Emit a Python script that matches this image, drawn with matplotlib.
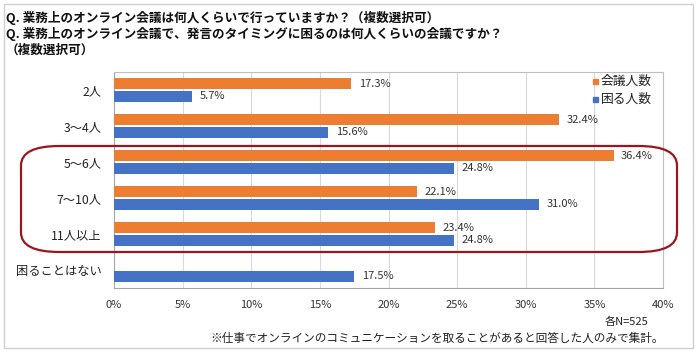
import matplotlib
matplotlib.use("Agg")
import matplotlib.pyplot as plt
from matplotlib.patches import FancyBboxPatch, Rectangle
import numpy as np

plt.rcParams['font.family'] = ['Noto Sans CJK JP', 'DejaVu Sans']

# data
categories = ["2人", "3～4人", "5～6人", "7～10人", "11人以上", "困ることはない"]
meeting = [17.3, 32.4, 36.4, 22.1, 23.4, None]
trouble = [5.7, 15.6, 24.8, 31.0, 24.8, 17.5]
xticks = [0, 5, 10, 15, 20, 25, 30, 35, 40]

orange = "#ED7D31"
blue = "#4472C4"

fig = plt.figure(figsize=(7, 3.54), dpi=100)
W, H = 700, 354
ax = fig.add_axes([114 / W, 1 - 288 / H, (663 - 114) / W, (288 - 72) / H])

y = np.arange(len(categories))
h = 0.31
for i in range(len(categories)):
    if meeting[i] is not None:
        ax.barh(y[i] - h / 2 - 0.02, meeting[i], height=h, color=orange, zorder=3)
        ax.text(meeting[i] + 0.55, y[i] - h / 2 - 0.02, f"{meeting[i]:.1f}%",
                va="center", ha="left", fontsize=8, color="#333333")
    ax.barh(y[i] + h / 2 + 0.02, trouble[i], height=h, color=blue, zorder=3)
    ax.text(trouble[i] + 0.55, y[i] + h / 2 + 0.02, f"{trouble[i]:.1f}%",
            va="center", ha="left", fontsize=8, color="#333333")

ax.set_xlim(0, 40)
ax.set_ylim(len(categories) - 0.5, -0.5)
ax.set_xticks(xticks)
ax.set_xticklabels([f"{t}%" for t in xticks], fontsize=8, color="#333333")
ax.set_yticks(y)
ax.set_yticklabels(categories, fontsize=8.8, color="#222222")
ax.tick_params(length=0, pad=9)
ax.tick_params(axis="x", pad=9)
ax.grid(axis="x", color="#D9D9D9", linewidth=0.8, zorder=0)
for s in ax.spines.values():
    s.set_color("#BFBFBF")
    s.set_linewidth(0.8)
ax.spines["left"].set_color("#A6A6A6")
ax.spines["bottom"].set_color("#A6A6A6")

# legend: small squares + labels
for k, (lab, col) in enumerate([("会議人数", orange), ("困る人数", blue)]):
    yc = 81 + 18 * k
    fig.patches.append(Rectangle((593 / W, 1 - (yc + 3) / H), 5 / W, 5 / H,
                                 transform=fig.transFigure, color=col))
    fig.text(601 / W, 1 - yc / H, lab, fontsize=9.2, va="center", ha="left", color="#222222")

# titles
title_lines = ["Q. 業務上のオンライン会議は何人くらいで行っていますか？（複数選択可）",
               "Q. 業務上のオンライン会議で、発言のタイミングに困るのは何人くらいの会議ですか？",
               "（複数選択可）"]
for k, line in enumerate(title_lines):
    fig.text(6 / W, 1 - (18 + 16 * k) / H, line, fontsize=9.1, fontweight="bold",
             va="center", ha="left", color="#111111")

fig.text(648 / W, 1 - 322 / H, "各N=525", fontsize=8, ha="right", va="center", color="#222222")
fig.text(664 / W, 1 - 338 / H, "※仕事でオンラインのコミュニケーションを取ることがあると回答した人のみで集計。",
         fontsize=8.4, ha="right", va="center", color="#222222")

# red rounded frame around 5人以上
fig.patches.append(FancyBboxPatch((21 / W, 1 - 252 / H), (677 - 21) / W, (252 - 146) / H,
                                  boxstyle="round,pad=0,rounding_size=0.055",
                                  transform=fig.transFigure, fill=False,
                                  edgecolor="#9B1520", linewidth=1.6, zorder=10))
# outer border
fig.patches.append(Rectangle((4 / W, 1 - 348 / H), (693 - 4) / W, (348 - 4) / H,
                             transform=fig.transFigure, fill=False,
                             edgecolor="#D0D0D0", linewidth=1))

fig.savefig("out.png", dpi=100)
